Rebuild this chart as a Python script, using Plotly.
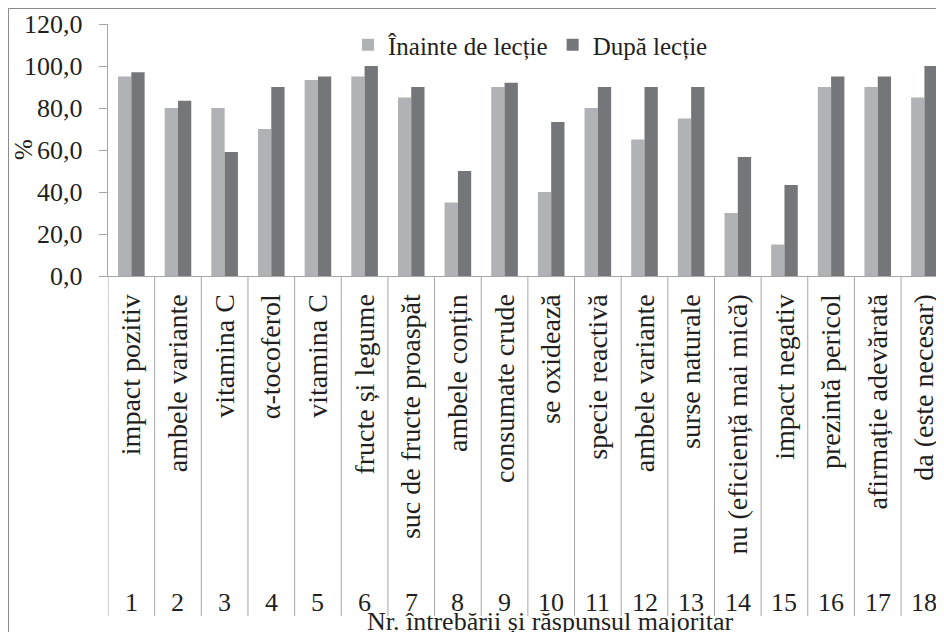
import plotly.graph_objects as go

question_numbers = ["1", "2", "3", "4", "5", "6", "7", "8", "9", "10",
                    "11", "12", "13", "14", "15", "16", "17", "18"]
answer_labels = ["impact pozitiv", "ambele variante", "vitamina C", "α-tocoferol",
                 "vitamina C", "fructe și legume", "suc de fructe proaspăt",
                 "ambele conțin", "consumate crude", "se oxidează", "specie reactivă",
                 "ambele variante", "surse naturale", "nu (eficiență mai mică)",
                 "impact negativ", "prezintă pericol", "afirmație adevărată",
                 "da (este necesar)"]
before_lesson = [95, 80, 80, 70, 93.3, 95, 85, 35, 90, 40, 80, 65, 75, 30, 15, 90, 90, 85]
after_lesson = [97, 83.5, 59, 90, 95, 100, 90, 50, 92, 73.3, 90, 90, 90, 56.7, 43.3, 95, 95, 100]
y_tick_values = [0, 20, 40, 60, 80, 100, 120]
y_tick_labels = ["0,0", "20,0", "40,0", "60,0", "80,0", "100,0", "120,0"]
series_names = ["Înainte de lecție", "După lecție"]

FONT = "Liberation Serif"
TXT = "#231f20"
LINE = "#a6a6a6"
OFF = 8  # page body margin
W, H = 944 - OFF, 632 - OFF
ML, MT = 108 - OFF, 24 - OFF
plot_h = 252
MB = H - MT - plot_h
plot_w = W - ML

def px_to_paper_x(px):
    # px given in reference picture coordinates
    return (px - OFF - ML) / plot_w

def px_to_paper_y(py):
    return (MT + plot_h - (py - OFF)) / plot_h

xs = list(range(len(question_numbers)))

fig = go.Figure()
fig.add_trace(go.Bar(x=xs, y=before_lesson, name=series_names[0],
                     marker=dict(color="#b1b2b5", line=dict(width=0))))
fig.add_trace(go.Bar(x=xs, y=after_lesson, name=series_names[1],
                     marker=dict(color="#75767a", line=dict(width=0))))

shapes = []
for k in range(len(xs) + 1):
    shapes.append(dict(type="line", xref="x", yref="paper",
                       x0=k - 0.5, x1=k - 0.5,
                       y0=0, y1=px_to_paper_y(616),
                       line=dict(color=LINE, width=1)))
shapes.append(dict(type="line", xref="paper", yref="paper",
                   x0=px_to_paper_x(8.5), x1=px_to_paper_x(8.5),
                   y0=px_to_paper_y(8.5), y1=px_to_paper_y(640),
                   line=dict(color="#8c8c8c", width=1)))
shapes.append(dict(type="line", xref="paper", yref="paper",
                   x0=px_to_paper_x(8.5), x1=px_to_paper_x(950),
                   y0=px_to_paper_y(8.5), y1=px_to_paper_y(8.5),
                   line=dict(color="#8c8c8c", width=1)))

annotations = []
for v, lab in zip(y_tick_values, y_tick_labels):
    annotations.append(dict(x=px_to_paper_x(85), y=v, xref="paper", yref="y",
                            text=lab, showarrow=False, xanchor="right", yanchor="middle",
                            font=dict(family=FONT, size=26, color=TXT)))
for k, num in zip(xs, question_numbers):
    annotations.append(dict(x=k, y=px_to_paper_y(602), xref="x", yref="paper",
                            text=num, showarrow=False, xanchor="center", yanchor="middle",
                            font=dict(family=FONT, size=26, color=TXT)))
annotations.append(dict(x=px_to_paper_x(550), y=px_to_paper_y(621), xref="paper", yref="paper",
                        text="Nr. întrebării și răspunsul majoritar", showarrow=False,
                        xanchor="center", yanchor="middle",
                        font=dict(family=FONT, size=26, color=TXT)))
annotations.append(dict(x=px_to_paper_x(23), y=60, xref="paper", yref="y",
                        text="%", showarrow=False, textangle=-90,
                        xanchor="center", yanchor="middle",
                        font=dict(family=FONT, size=25, color=TXT)))

fig.update_layout(
    width=W, height=H,
    margin=dict(l=ML, r=0, t=MT, b=MB, pad=0),
    paper_bgcolor="white", plot_bgcolor="white",
    barmode="group", bargap=0.43, bargroupgap=0,
    font=dict(family=FONT, size=24, color=TXT),
    showlegend=True,
    legend=dict(orientation="h", x=px_to_paper_x(348), y=px_to_paper_y(45),
                xanchor="left", yanchor="middle", bgcolor="rgba(0,0,0,0)",
                font=dict(family=FONT, size=25, color=TXT), traceorder="normal"),
    shapes=shapes, annotations=annotations,
)
fig.update_xaxes(range=[-0.5, 17.42], tickmode="array", tickvals=xs, ticktext=answer_labels,
                 tickangle=-90, ticks="", showline=True, linecolor=LINE, linewidth=1,
                 showgrid=False, zeroline=False, ticklabelstandoff=6,
                 tickfont=dict(family=FONT, size=28, color=TXT))
fig.update_yaxes(range=[0, 120], tickmode="array", tickvals=y_tick_values,
                 showticklabels=False,
                 ticks="outside", ticklen=8, tickcolor=LINE, showline=True, linecolor=LINE,
                 linewidth=1, showgrid=False, zeroline=False)

fig.write_html("out.html")
